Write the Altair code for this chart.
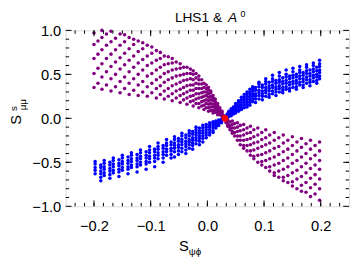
import altair as alt
import pandas as pd

# ---------------- data ----------------
# purple, upper-left branch: column x positions and y values per column
pul_x = [-0.200, -0.193, -0.186, -0.178, -0.170, -0.162, -0.154, -0.146, -0.138, -0.130,
         -0.122, -0.114, -0.106, -0.098, -0.090, -0.083, -0.076, -0.069, -0.062, -0.055,
         -0.048, -0.042, -0.036, -0.030, -0.025, -0.020, -0.015, -0.010, -0.006, -0.002,
         0.002, 0.006, 0.010, 0.014, 0.018, 0.022, 0.026, 0.030]
pul_y = [
    [0.35, 0.51, 0.68, 0.84, 0.97],
    [0.40, 0.57, 0.73, 0.88],
    [0.33, 0.47, 0.62, 0.78, 0.92, 1.00],
    [0.38, 0.53, 0.68, 0.83, 0.96],
    [0.31, 0.45, 0.59, 0.73, 0.87, 0.99],
    [0.36, 0.50, 0.64, 0.78, 0.91],
    [0.29, 0.42, 0.56, 0.69, 0.83, 0.96],
    [0.34, 0.47, 0.61, 0.74, 0.87, 0.95],
    [0.27, 0.40, 0.53, 0.66, 0.79, 0.92],
    [0.32, 0.45, 0.58, 0.71, 0.84, 0.90],
    [0.26, 0.38, 0.50, 0.63, 0.76, 0.88],
    [0.30, 0.42, 0.55, 0.67, 0.79, 0.86],
    [0.25, 0.36, 0.48, 0.60, 0.71, 0.83],
    [0.29, 0.40, 0.51, 0.63, 0.74, 0.81],
    [0.23, 0.34, 0.44, 0.55, 0.66, 0.77],
    [0.27, 0.37, 0.47, 0.58, 0.68, 0.75],
    [0.22, 0.31, 0.41, 0.51, 0.61, 0.71],
    [0.25, 0.34, 0.44, 0.53, 0.62, 0.70],
    [0.20, 0.28, 0.37, 0.46, 0.55, 0.63, 0.68],
    [0.23, 0.31, 0.39, 0.48, 0.56, 0.64],
    [0.18, 0.26, 0.33, 0.41, 0.49, 0.57, 0.62],
    [0.21, 0.28, 0.35, 0.43, 0.50, 0.58],
    [0.16, 0.23, 0.30, 0.37, 0.44, 0.51, 0.58],
    [0.19, 0.25, 0.32, 0.38, 0.45, 0.51, 0.56],
    [0.14, 0.20, 0.26, 0.32, 0.38, 0.44, 0.50, 0.54],
    [0.17, 0.22, 0.28, 0.34, 0.40, 0.46, 0.51],
    [0.12, 0.17, 0.23, 0.28, 0.34, 0.39, 0.44, 0.48],
    [0.14, 0.19, 0.24, 0.29, 0.34, 0.39, 0.44],
    [0.10, 0.15, 0.20, 0.25, 0.30, 0.35, 0.40],
    [0.12, 0.17, 0.21, 0.26, 0.30, 0.34, 0.38],
    [0.08, 0.12, 0.16, 0.20, 0.24, 0.28, 0.32, 0.35],
    [0.09, 0.13, 0.17, 0.21, 0.25, 0.29, 0.31],
    [0.06, 0.09, 0.13, 0.16, 0.20, 0.23, 0.26],
    [0.07, 0.10, 0.13, 0.16, 0.19, 0.22],
    [0.04, 0.07, 0.09, 0.12, 0.15, 0.17],
    [0.04, 0.06, 0.08, 0.10, 0.12],
    [0.02, 0.04, 0.06, 0.08],
    [0.01, 0.03],
]

# purple, lower-right branch
plr_x = [0.198, 0.190, 0.182, 0.174, 0.166, 0.158, 0.150, 0.142, 0.134, 0.126,
         0.118, 0.110, 0.103, 0.096, 0.089, 0.082, 0.076, 0.070, 0.064, 0.058,
         0.053, 0.048, 0.044, 0.040, 0.036, 0.033]
plr_y = [
    [-0.27, -0.37, -0.48, -0.58, -0.69, -0.80, -0.93],
    [-0.31, -0.42, -0.53, -0.64, -0.75, -0.86],
    [-0.25, -0.35, -0.46, -0.57, -0.68, -0.79, -0.89],
    [-0.29, -0.40, -0.51, -0.62, -0.73, -0.84],
    [-0.23, -0.33, -0.44, -0.55, -0.66, -0.76, -0.83],
    [-0.27, -0.37, -0.48, -0.59, -0.69, -0.80],
    [-0.21, -0.31, -0.41, -0.51, -0.62, -0.72, -0.77],
    [-0.25, -0.35, -0.45, -0.55, -0.65, -0.73],
    [-0.19, -0.28, -0.38, -0.48, -0.58, -0.67, -0.71],
    [-0.22, -0.32, -0.41, -0.51, -0.60, -0.67],
    [-0.16, -0.25, -0.34, -0.44, -0.53, -0.62, -0.65],
    [-0.19, -0.28, -0.37, -0.46, -0.55, -0.60],
    [-0.13, -0.22, -0.30, -0.39, -0.48, -0.56],
    [-0.16, -0.24, -0.32, -0.41, -0.49, -0.53],
    [-0.11, -0.19, -0.27, -0.34, -0.42, -0.50],
    [-0.13, -0.21, -0.28, -0.36, -0.43, -0.46],
    [-0.09, -0.16, -0.23, -0.30, -0.37, -0.42],
    [-0.11, -0.17, -0.24, -0.31, -0.37],
    [-0.07, -0.13, -0.19, -0.25, -0.31, -0.34],
    [-0.08, -0.14, -0.20, -0.25, -0.30],
    [-0.05, -0.10, -0.15, -0.20, -0.25],
    [-0.06, -0.11, -0.16, -0.20],
    [-0.03, -0.07, -0.11, -0.15, -0.17],
    [-0.04, -0.08, -0.11, -0.13],
    [-0.02, -0.05, -0.08, -0.09],
    [-0.01, -0.03, -0.05],
]

# blue, upper-right branch
bur_x = [0.198, 0.193, 0.187, 0.181, 0.175, 0.169, 0.163, 0.157, 0.151, 0.145,
         0.139, 0.133, 0.127, 0.121, 0.115, 0.109, 0.103, 0.097, 0.091, 0.085,
         0.080, 0.075, 0.070, 0.065, 0.060, 0.055, 0.050, 0.046, 0.042, 0.038, 0.035]
bur_y = [
    [0.45, 0.48, 0.52, 0.55, 0.59, 0.62, 0.66],
    [0.40, 0.43, 0.47, 0.50, 0.54, 0.58],
    [0.42, 0.46, 0.49, 0.53, 0.56, 0.60, 0.63],
    [0.37, 0.41, 0.44, 0.48, 0.51, 0.55],
    [0.40, 0.44, 0.47, 0.51, 0.54, 0.58, 0.61],
    [0.35, 0.38, 0.42, 0.45, 0.49, 0.52],
    [0.38, 0.41, 0.45, 0.48, 0.52, 0.55, 0.59],
    [0.33, 0.36, 0.40, 0.43, 0.47, 0.50],
    [0.35, 0.39, 0.42, 0.46, 0.49, 0.53, 0.57],
    [0.31, 0.34, 0.38, 0.41, 0.45, 0.48],
    [0.33, 0.36, 0.40, 0.43, 0.47, 0.50, 0.55],
    [0.29, 0.32, 0.35, 0.39, 0.42, 0.46],
    [0.30, 0.34, 0.37, 0.41, 0.44, 0.48, 0.52],
    [0.26, 0.30, 0.33, 0.36, 0.40, 0.43],
    [0.28, 0.31, 0.35, 0.38, 0.42, 0.45, 0.49],
    [0.24, 0.27, 0.31, 0.34, 0.37, 0.41],
    [0.25, 0.29, 0.32, 0.35, 0.39, 0.42, 0.45],
    [0.21, 0.25, 0.28, 0.31, 0.35, 0.38],
    [0.22, 0.26, 0.29, 0.32, 0.36, 0.39, 0.41],
    [0.18, 0.22, 0.25, 0.28, 0.32, 0.35],
    [0.19, 0.22, 0.25, 0.28, 0.31, 0.34, 0.36],
    [0.15, 0.18, 0.21, 0.24, 0.27, 0.30, 0.33],
    [0.13, 0.16, 0.19, 0.22, 0.25, 0.28, 0.30],
    [0.12, 0.15, 0.18, 0.21, 0.24, 0.27],
    [0.10, 0.12, 0.15, 0.18, 0.21, 0.24],
    [0.08, 0.10, 0.13, 0.15, 0.18, 0.20],
    [0.06, 0.08, 0.10, 0.12, 0.15, 0.17],
    [0.05, 0.07, 0.09, 0.11, 0.13],
    [0.03, 0.05, 0.07, 0.09, 0.11],
    [0.02, 0.04, 0.06, 0.08],
    [0.01, 0.03, 0.05],
]

# blue, lower-left branch
bll_x = [-0.198, -0.188, -0.182, -0.172, -0.166, -0.156, -0.150, -0.140, -0.134, -0.124,
         -0.118, -0.108, -0.102, -0.093, -0.087, -0.078, -0.072, -0.064, -0.058, -0.051,
         -0.045, -0.038, -0.032, -0.026, -0.020, -0.014, -0.008, -0.002, 0.004, 0.010,
         0.015, 0.020, 0.025]
bll_y = [
    [-0.49, -0.52, -0.56, -0.59, -0.63],
    [-0.53, -0.56, -0.60, -0.63, -0.67, -0.71],
    [-0.48, -0.51, -0.55, -0.58, -0.62, -0.65],
    [-0.50, -0.53, -0.57, -0.60, -0.64, -0.68],
    [-0.45, -0.48, -0.52, -0.55, -0.59, -0.62],
    [-0.47, -0.51, -0.54, -0.58, -0.61, -0.66],
    [-0.42, -0.45, -0.49, -0.52, -0.56, -0.59],
    [-0.44, -0.48, -0.51, -0.55, -0.58, -0.63],
    [-0.39, -0.42, -0.46, -0.49, -0.53, -0.56],
    [-0.41, -0.45, -0.48, -0.52, -0.55, -0.61],
    [-0.36, -0.39, -0.43, -0.46, -0.50, -0.53],
    [-0.38, -0.42, -0.45, -0.49, -0.52, -0.58],
    [-0.32, -0.36, -0.39, -0.43, -0.46, -0.50],
    [-0.35, -0.38, -0.42, -0.45, -0.49, -0.55],
    [-0.28, -0.32, -0.35, -0.39, -0.42, -0.46],
    [-0.31, -0.34, -0.38, -0.41, -0.45, -0.50],
    [-0.24, -0.28, -0.31, -0.35, -0.38, -0.42],
    [-0.27, -0.30, -0.34, -0.37, -0.41, -0.45],
    [-0.21, -0.24, -0.28, -0.31, -0.34, -0.38, -0.44],
    [-0.23, -0.26, -0.30, -0.33, -0.37, -0.41],
    [-0.17, -0.20, -0.24, -0.27, -0.30, -0.34, -0.38],
    [-0.19, -0.22, -0.26, -0.29, -0.32, -0.36, -0.40],
    [-0.14, -0.17, -0.20, -0.24, -0.27, -0.30, -0.34],
    [-0.15, -0.18, -0.22, -0.25, -0.28, -0.31, -0.35],
    [-0.10, -0.13, -0.16, -0.19, -0.22, -0.25, -0.29],
    [-0.11, -0.14, -0.17, -0.20, -0.23, -0.26, -0.30],
    [-0.08, -0.11, -0.14, -0.17, -0.20, -0.23, -0.27],
    [-0.07, -0.10, -0.13, -0.16, -0.19, -0.22],
    [-0.05, -0.08, -0.10, -0.13, -0.16, -0.19],
    [-0.04, -0.06, -0.08, -0.11, -0.14, -0.16],
    [-0.03, -0.05, -0.07, -0.09, -0.11],
    [-0.02, -0.04, -0.06, -0.08],
    [-0.01, -0.03, -0.05],
]

# red reference point
red_x = [0.031]
red_y = [0.0]

x_major = [-0.2, -0.1, 0.0, 0.1, 0.2]
y_major = [-1.0, -0.5, 0.0, 0.5, 1.0]
x_minor = [round(-0.25 + k / 60, 5) for k in range(1, 30)]
y_minor = [round(-1.0 + k / 10, 3) for k in range(1, 20)]

# ---------------- build tables ----------------
rows = []
for name, xs_, ys_ in [("purple", pul_x, pul_y), ("purple", plr_x, plr_y),
                       ("blue", bur_x, bur_y), ("blue", bll_x, bll_y)]:
    for xv, col in zip(xs_, ys_):
        for yv in col:
            rows.append({"x": xv, "y": yv, "s": name})
pts = pd.DataFrame(rows)
red = pd.DataFrame({"x": red_x, "y": red_y})

W, H = 290, 180
FONT = "Liberation Sans"
xs = alt.Scale(domain=[-0.25, 0.25], nice=False, zero=False)
ys = alt.Scale(domain=[-1, 1], nice=False, zero=False)

xaxis = alt.Axis(values=x_major, format=".1f", ticks=False, domain=False, grid=False,
                 labelFont=FONT, labelFontSize=15, labelColor="black", labelPadding=13,
                 labelFlush=False, title=None)
yaxis = alt.Axis(values=y_major, format=".1f", ticks=False, domain=False, grid=False,
                 labelFont=FONT, labelFontSize=15, labelColor="black", labelPadding=5,
                 labelFlush=False, labelOverlap=False, title=None)

points = alt.Chart(pts).mark_circle(size=13, opacity=1).encode(
    x=alt.X("x:Q", scale=xs, axis=xaxis),
    y=alt.Y("y:Q", scale=ys, axis=yaxis),
    color=alt.Color("s:N", scale=alt.Scale(domain=["purple", "blue"],
                                           range=["#800080", "#0000ff"]), legend=None),
)
redpt = alt.Chart(red).mark_circle(size=48, opacity=1, color="#ff0000").encode(
    x=alt.X("x:Q", scale=xs, axis=xaxis), y=alt.Y("y:Q", scale=ys, axis=yaxis))

def xticks(vals, length):
    d = pd.DataFrame({"v": vals})
    b = alt.Chart(d).mark_rule(color="black", strokeWidth=1).encode(
        x=alt.X("v:Q", scale=xs, axis=xaxis), y=alt.value(H), y2=alt.value(H - length))
    t = alt.Chart(d).mark_rule(color="black", strokeWidth=1).encode(
        x=alt.X("v:Q", scale=xs, axis=xaxis), y=alt.value(0), y2=alt.value(length))
    return [b, t]

def yticks(vals, length):
    d = pd.DataFrame({"v": vals})
    l = alt.Chart(d).mark_rule(color="black", strokeWidth=1).encode(
        y=alt.Y("v:Q", scale=ys, axis=yaxis), x=alt.value(0), x2=alt.value(length))
    r = alt.Chart(d).mark_rule(color="black", strokeWidth=1).encode(
        y=alt.Y("v:Q", scale=ys, axis=yaxis), x=alt.value(W), x2=alt.value(W - length))
    return [l, r]

def txt(t, x, y, size, angle=0, align="center", baseline="alphabetic", style="normal"):
    return alt.Chart(pd.DataFrame({"t": [t]})).mark_text(
        font=FONT, fontSize=size, align=align, baseline=baseline, angle=angle,
        fontStyle=style, color="black").encode(text="t:N", x=alt.value(x), y=alt.value(y))

labels = [
    txt("LHS1 &", 160, -9, 14, align="right"),
    txt("A", 166, -9, 14, align="left", style="italic"),
    txt("0", 179, -14, 9, align="left"),
    txt("S", 121, 226, 15),
    txt("ψϕ", 126, 230, 10, align="left"),
    txt("S", -51, 91.5, 15, angle=270, baseline="middle"),
    txt("s", -53, 80, 10, angle=270, baseline="middle"),
    txt("μμ", -44, 76, 10, angle=270, baseline="middle"),
]

layers = [points, redpt] + xticks(x_major, 6) + xticks(x_minor, 3.5) \
    + yticks(y_major, 6) + yticks(y_minor, 3.5) + labels

chart = alt.layer(*layers).properties(
    width=W, height=H,
    autosize=alt.AutoSizeParams(type="none"),
    padding={"left": 59, "top": 20, "right": 3, "bottom": 50},
).configure_view(stroke="black", strokeWidth=1).configure(background="white")

chart.save("out.html", embed_options={"renderer": "svg", "actions": False})
